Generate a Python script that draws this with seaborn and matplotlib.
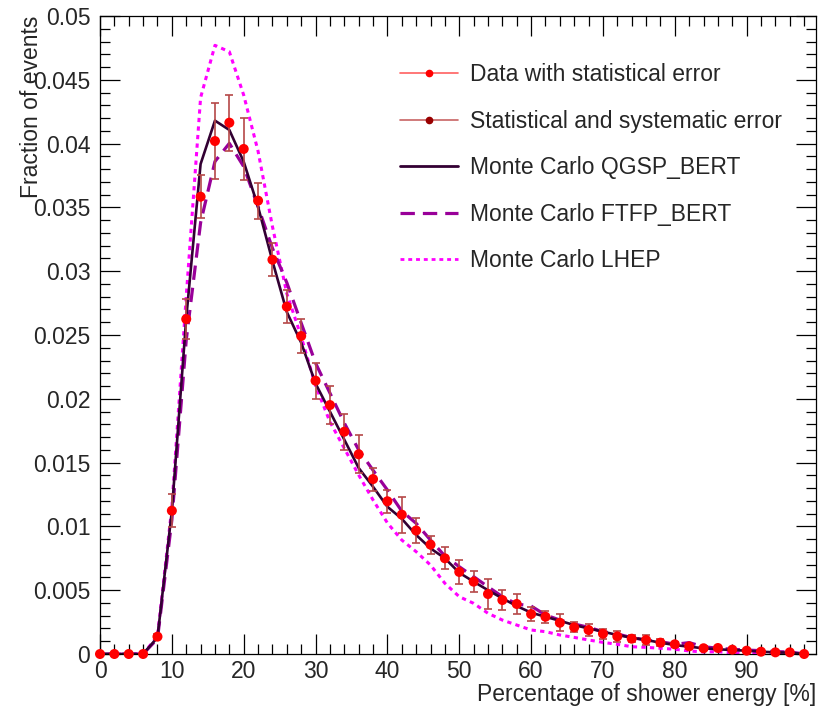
import numpy as np
import pandas as pd
import matplotlib
matplotlib.use("Agg")
import matplotlib.pyplot as plt
import seaborn as sns
from matplotlib.lines import Line2D
from matplotlib.ticker import MultipleLocator, FuncFormatter

# ---------------- data ----------------
energy = list(range(0, 100, 2))

data_frac = [0, 0, 0, 0, 0.00136, 0.01123, 0.02625, 0.03584, 0.0402, 0.04164,
             0.03958, 0.03553, 0.0309, 0.02722, 0.02492, 0.02142, 0.01951, 0.01742, 0.01565, 0.01371,
             0.01197, 0.01092, 0.00968, 0.00857, 0.0075, 0.00643, 0.00567, 0.0047, 0.00423, 0.00392,
             0.00313, 0.00292, 0.00245, 0.00209, 0.00188, 0.00159, 0.00138, 0.0012, 0.0011, 0.00089,
             0.00076, 0.0006, 0.00045, 0.00047, 0.00034, 0.00026, 0.00018, 0.00013, 0.00013, 0.0]

err_total = [0, 0, 0, 0, 0.0002, 0.0013, 0.0016, 0.0017, 0.003, 0.0022,
             0.0024, 0.0014, 0.0013, 0.0013, 0.0013, 0.0014, 0.0015, 0.0014, 0.0015, 0.0009,
             0.0009, 0.0014, 0.001, 0.0007, 0.00085, 0.00094, 0.0008, 0.0012, 0.0008, 0.0008,
             0.00057, 0.00046, 0.00067, 0.0004, 0.0005, 0.0004, 0.00046, 0.00026, 0.00037, 0.00025,
             0.0002, 0.0002, 0.00015, 0.00015, 0.00012, 0.0001, 0.0001, 0.0001, 0.0001, 0.0]

err_stat = [0, 0, 0, 0, 0.0001, 0.0003, 0.0004, 0.0004, 0.0004, 0.0004,
            0.0004, 0.0004, 0.0004, 0.0003, 0.0003, 0.0003, 0.0003, 0.0003, 0.0003, 0.0003,
            0.0003, 0.0003, 0.0002, 0.0002, 0.0002, 0.0002, 0.0002, 0.0002, 0.0002, 0.0002,
            0.0001, 0.0001, 0.0001, 0.0001, 0.0001, 0.0001, 0.0001, 0.0001, 0.0001, 0.0001,
            0.0001, 0.0001, 0.0001, 0.0001, 0.0001, 0.0001, 0.0001, 0.0001, 0.0001, 0.0]

mc_qgsp = [0, 0, 0, 0, 0.0013, 0.0112, 0.0263, 0.0384, 0.0418, 0.04107,
           0.03858, 0.03505, 0.0308, 0.0268, 0.0244, 0.0212, 0.019, 0.0168, 0.01458, 0.01311,
           0.01154, 0.0106, 0.00933, 0.00828, 0.0075, 0.00637, 0.00567, 0.005, 0.00436, 0.00376,
           0.00324, 0.00292, 0.0026, 0.00227, 0.002, 0.00175, 0.00149, 0.00128, 0.0011, 0.00089,
           0.0007, 0.00057, 0.00045, 0.00037, 0.00031, 0.00026, 0.00018, 0.00013, 0.0001, 0.0]

mc_ftfp = [0, 0, 0, 0, 0.0012, 0.0105, 0.0246, 0.0338, 0.0386, 0.04002,
           0.0382, 0.03505, 0.0318, 0.0291, 0.02594, 0.0228, 0.02045, 0.0181, 0.016, 0.0144,
           0.01285, 0.0112, 0.01024, 0.00893, 0.00768, 0.00684, 0.00606, 0.00527, 0.00449, 0.00392,
           0.00376, 0.00306, 0.00266, 0.00235, 0.00209, 0.00175, 0.00157, 0.00128, 0.0011, 0.00097,
           0.00076, 0.00089, 0.00057, 0.00045, 0.00037, 0.00031, 0.00026, 0.00018, 0.00016, 0.0]

mc_lhep = [0, 0, 0, 0, 0.0014, 0.0115, 0.028, 0.0436, 0.0477, 0.0472,
           0.0438, 0.0394, 0.0335, 0.02826, 0.02487, 0.02103, 0.0182, 0.01612, 0.01403, 0.01207,
           0.01027, 0.00893, 0.00802, 0.00697, 0.00554, 0.00449, 0.00397, 0.00319, 0.00266, 0.00227,
           0.00188, 0.00175, 0.00149, 0.0013, 0.0011, 0.00091, 0.00076, 0.00057, 0.00052, 0.00045,
           0.00037, 0.00024, 0.00016, 0.00018, 0.0001, 0.00008, 0.00006, 0.00005, 0.00004, 0.0]

labels = ["Data with statistical error", "Statistical and systematic error",
          "Monte Carlo QGSP_BERT", "Monte Carlo FTFP_BERT", "Monte Carlo LHEP"]

# ---------------- style ----------------
sns.set_style("ticks")
plt.rcParams["font.family"] = ["Liberation Sans", "DejaVu Sans"]

FS = 16.5
FS_TICK = 16.5
C_QGSP = "#330033"
C_FTFP = "#990099"
C_LHEP = "#ff00ff"
C_DATA = "#ff0000"
C_SYS = "#990000"

fig = plt.figure(figsize=(8.3, 7.27), dpi=100)
ax = fig.add_axes([100 / 830, 1 - 654 / 727, 716 / 830, 638 / 727])

mc = pd.concat([
    pd.DataFrame({"x": energy, "y": mc_lhep, "model": labels[4]}),
    pd.DataFrame({"x": energy, "y": mc_ftfp, "model": labels[3]}),
    pd.DataFrame({"x": energy, "y": mc_qgsp, "model": labels[2]}),
])

sns.lineplot(data=mc, x="x", y="y", hue="model", style="model",
             palette={labels[2]: C_QGSP, labels[3]: C_FTFP, labels[4]: C_LHEP},
             dashes={labels[2]: "", labels[3]: (4.5, 2.5), labels[4]: (1.4, 1.4)},
             sort=False, legend=False, ax=ax, estimator=None)

lw_map = {C_QGSP: 1.9, C_FTFP: 2.3, C_LHEP: 2.2}
for ln in ax.get_lines():
    col = matplotlib.colors.to_hex(ln.get_color())
    for k, v in lw_map.items():
        if col.lower() == k.lower():
            ln.set_linewidth(v)
    ln.set_solid_capstyle("round")
    ln.set_dash_capstyle("butt")

# error bars
ax.errorbar(energy, data_frac, yerr=err_total, fmt="none", ecolor="#b54848",
            elinewidth=1.2, capsize=3.0, capthick=1.2, zorder=5, clip_on=False)
ax.errorbar(energy, data_frac, yerr=err_stat, fmt="none", ecolor="#ff4040",
            elinewidth=1.2, capsize=0, zorder=6, clip_on=False)
dpts = pd.DataFrame({"x": energy, "y": data_frac})
sns.scatterplot(data=dpts, x="x", y="y", color=C_DATA, s=52, edgecolor="none",
                ax=ax, zorder=7, clip_on=False, legend=False)

ax.set_xlim(0, 99.65)
ax.set_ylim(0, 0.05)

ax.xaxis.set_major_locator(MultipleLocator(10))
ax.xaxis.set_minor_locator(MultipleLocator(2))
ax.yaxis.set_major_locator(MultipleLocator(0.005))
ax.yaxis.set_minor_locator(MultipleLocator(0.001))
ax.yaxis.set_major_formatter(FuncFormatter(lambda v, p: "%g" % round(v, 4)))
ax.xaxis.set_major_formatter(FuncFormatter(lambda v, p: "%d" % round(v)))

ax.tick_params(which="both", direction="in", top=True, right=True,
               labelsize=FS_TICK, color="black", width=0.9)
ax.tick_params(which="major", length=14.5)
ax.tick_params(axis="y", which="major", pad=7)
ax.tick_params(axis="x", which="major", pad=4)
ax.tick_params(which="minor", length=7.5)
for sp in ax.spines.values():
    sp.set_linewidth(0.9)
    sp.set_color("black")

ax.set_xlabel("Percentage of shower energy [%]", fontsize=FS, loc="right")
ax.xaxis.set_label_coords(1.0, -0.045)
ax.set_ylabel("Fraction of events", fontsize=FS, loc="top")
ax.yaxis.set_label_coords(-0.080, 1.0)

handles = [
    Line2D([], [], color="#ff6060", lw=1.2, marker="o", markersize=4.5,
           markerfacecolor=C_DATA, markeredgecolor=C_DATA),
    Line2D([], [], color="#c86464", lw=1.2, marker="o", markersize=4.5,
           markerfacecolor=C_SYS, markeredgecolor=C_SYS),
    Line2D([], [], color=C_QGSP, lw=2.0),
    Line2D([], [], color=C_FTFP, lw=2.3, dashes=(4.5, 2.5)),
    Line2D([], [], color=C_LHEP, lw=2.0, dashes=(1.4, 1.4)),
]
ax.legend(handles, labels, loc="upper left", bbox_to_anchor=(400 / 830, 1 - 63 / 727),
          bbox_transform=fig.transFigure, frameon=False, fontsize=FS,
          handlelength=2.53, handletextpad=0.52, labelspacing=1.03, borderpad=0,
          borderaxespad=0)

fig.savefig("out.png", dpi=100)
